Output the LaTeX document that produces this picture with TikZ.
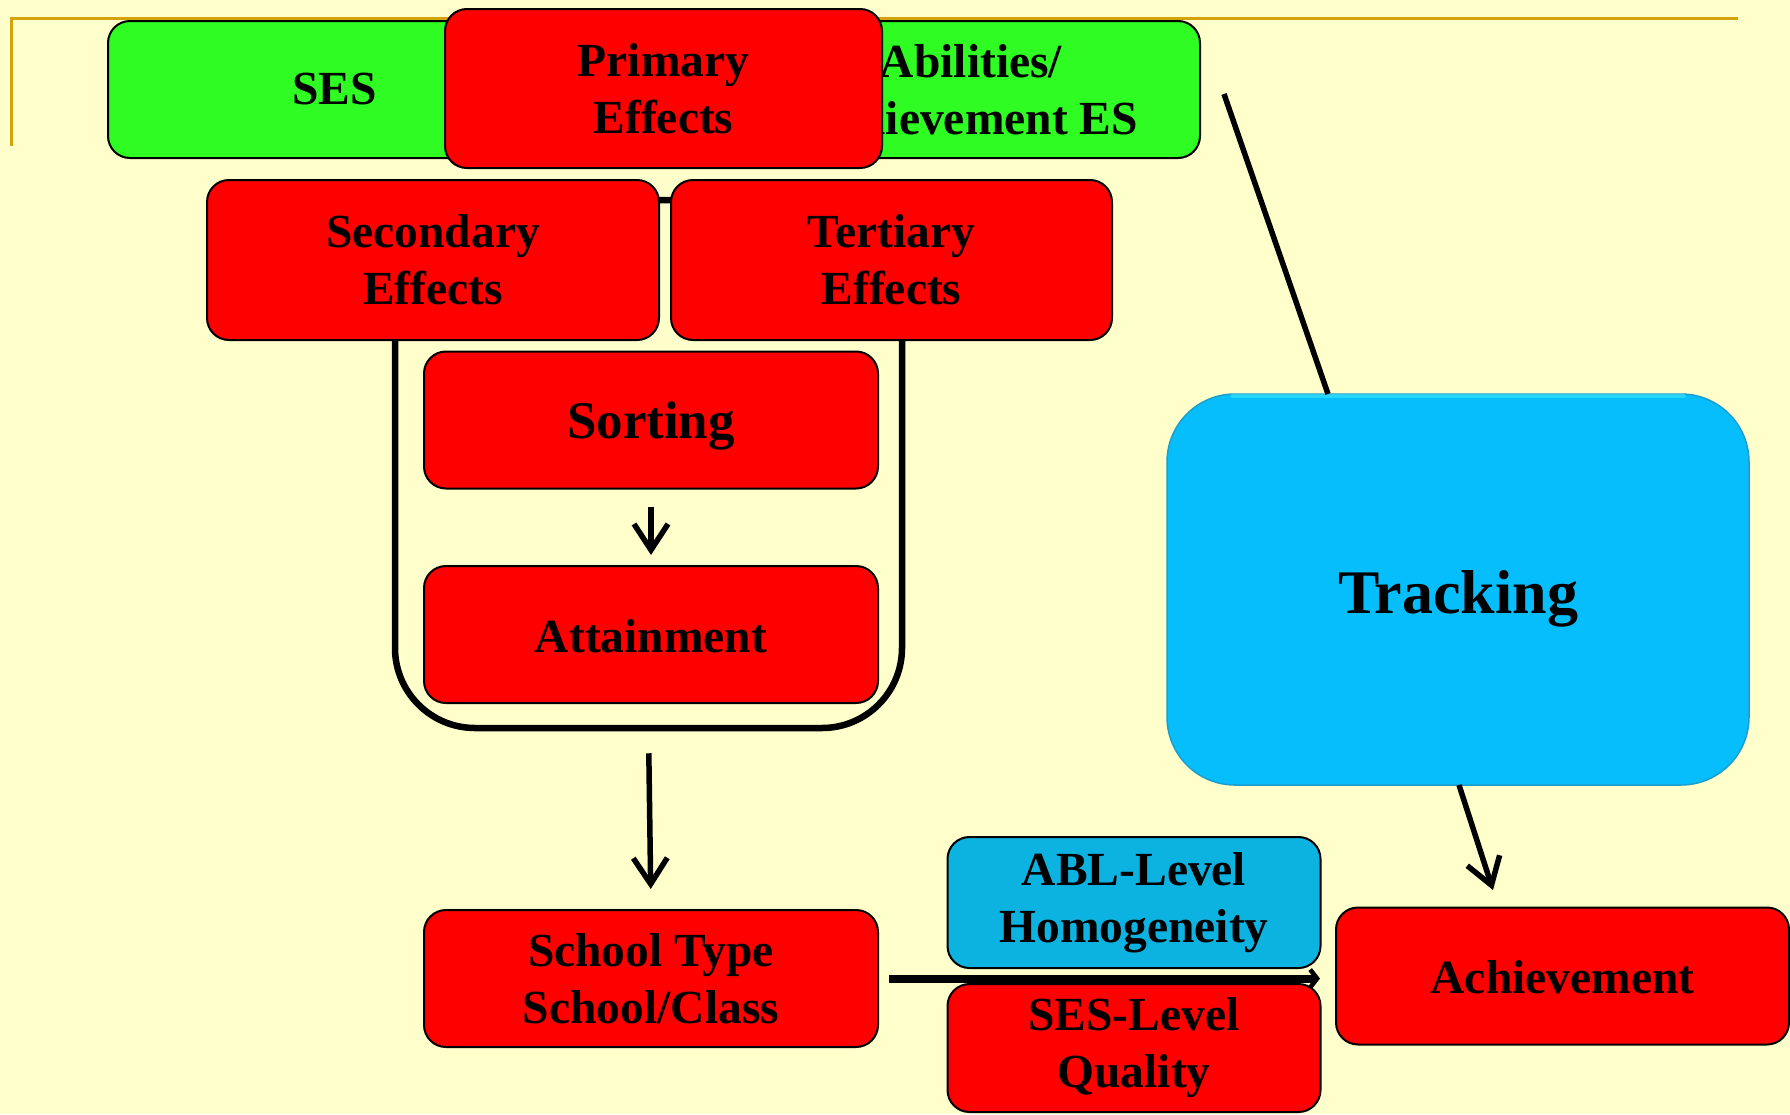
\documentclass[tikz,border=0pt]{standalone}
\usepackage{fontspec}
\setmainfont{Liberation Serif}
\usetikzlibrary{arrows.meta}
\definecolor{paper}{HTML}{FFFFCC}
\definecolor{gold}{HTML}{D4A20A}
\definecolor{leaf}{HTML}{2EFC22}
\definecolor{alarm}{HTML}{FF0000}
\definecolor{sky}{HTML}{07BEFC}
\definecolor{skyedge}{HTML}{1A9FCC}
\definecolor{skylight}{HTML}{3FE6FF}
\definecolor{teal}{HTML}{0DB3E0}
\begin{document}
\begin{tikzpicture}[x=1pt,y=-1pt,
  box/.style={draw=black, line width=2pt, rounded corners=22pt, inner sep=0pt,
    align=center, text=black, font=\bfseries\fontsize{47.5}{57}\selectfont},
  redbox/.style={box, fill=alarm},
  greenbox/.style={box, fill=leaf},
  wire/.style={draw=black, line width=5.5pt},
  arrowline/.style={wire, -{Straight Barb[length=26pt,width=34pt,line width=5.5pt]}}
]
% page and header rule
\useasboundingbox (0,0) rectangle (1790,1114);
\fill[paper] (0,0) rectangle (1790,1114);
\draw[gold, line width=3pt] (11,146) -- (11,18) -- (1738,18);

% frame around sorting and attainment
\node[draw=black, line width=6.5pt, rounded corners=80pt, minimum width=507pt,
  minimum height=528pt, inner sep=0pt] (grp) at (648.5,464) {};

% background factors
\node[greenbox, minimum width=453pt, minimum height=137pt] (ses) at (334.5,89.5) {SES};
\node[greenbox, minimum width=458pt, minimum height=137pt] (abl) at (971,89.5) {Abilities/\\Achievement ES};
\node[redbox, minimum width=437pt, minimum height=159pt] (prim) at (663.5,88.5) {Primary\\Effects};

\node[redbox, minimum width=452pt, minimum height=160pt] (sec) at (433,260) {Secondary\\Effects};
\node[redbox, minimum width=441pt, minimum height=160pt] (ter) at (891.5,260) {Tertiary\\Effects};

\node[redbox, minimum width=454pt, minimum height=137pt, text height=48pt, text depth=11pt,
  font=\bfseries\fontsize{53}{60}\selectfont] (sort) at (651,420) {Sorting};
\node[redbox, minimum width=454pt, minimum height=137pt, text height=36pt, text depth=0pt] (att) at (651,634.5) {Attainment};
\node[redbox, minimum width=454pt, minimum height=137pt] (school) at (651,978.5) {School Type\\School/Class};

\node[box, fill=teal, minimum width=373pt, minimum height=131pt] (homog) at (1134,902.5) {ABL-Level\\Homogeneity};
\node[redbox, minimum width=373pt, minimum height=128pt] (qual) at (1134,1048) {SES-Level\\Quality};
\node[redbox, minimum width=453pt, minimum height=137pt, text height=35pt, text depth=0pt] (ach) at (1562.5,976) {Achievement};

% tracking block with a bevelled rim
\node[box, fill=sky, draw=skyedge, line width=1.5pt, rounded corners=68pt,
  minimum width=582pt, minimum height=391pt, text height=61pt, text depth=13pt,
  font=\bfseries\fontsize{62}{70}\selectfont] (trk) at (1458,589.5) {Tracking};
\draw[skylight, opacity=0.6, line width=4pt, line cap=round]
  ([xshift=66pt,yshift=-3pt]trk.north west) -- ([xshift=-66pt,yshift=-3pt]trk.north east);

% connectors
\draw[arrowline, shorten <=17pt, shorten >=10pt] (sort.south) -- (att.north);
\draw[arrowline, shorten <=22pt, shorten >=20pt] (grp.south) -- (school.north);

\coordinate (abtail) at (1224,94);
\coordinate (trktop) at (1328,394);
\draw[wire] (abtail) -- (trktop);

\coordinate (trkfoot) at (1459,785);
\coordinate (achtip) at (1493,890);
\draw[arrowline] (trkfoot) -- (achtip);

\draw[wire, line width=8pt, shorten <=10pt, shorten >=15pt,
  -{Straight Barb[length=7pt,width=18pt,line width=4.5pt]}]
  (school.east) -- (school.east -| ach.west);
\end{tikzpicture}
\end{document}
